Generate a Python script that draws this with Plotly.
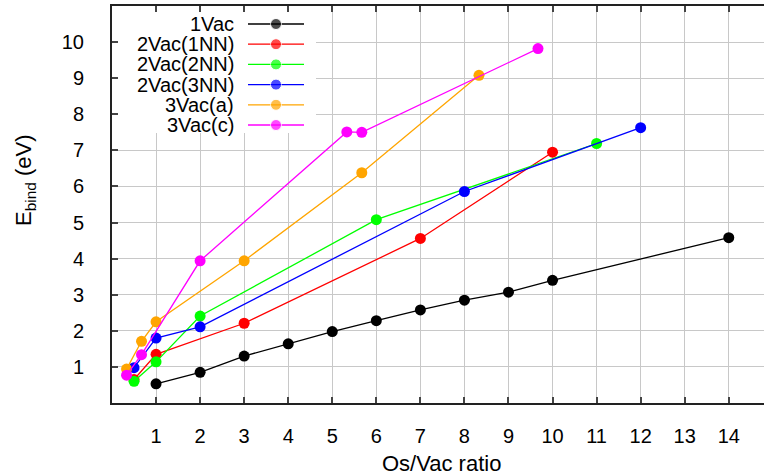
import plotly.graph_objects as go

# ---- data ----
vac1_x = [1, 2, 3, 4, 5, 6, 7, 8, 9, 10, 14]
vac1_y = [0.53, 0.85, 1.30, 1.64, 1.98, 2.28, 2.58, 2.85, 3.07, 3.40, 4.58]
nn1_x = [0.5, 1, 3, 7, 10]
nn1_y = [0.65, 1.35, 2.21, 4.56, 6.95]
nn2_x = [0.5, 1, 2, 6, 11]
nn2_y = [0.60, 1.14, 2.41, 5.08, 7.19]
nn3_x = [0.5, 1, 2, 8, 12]
nn3_y = [0.98, 1.80, 2.11, 5.86, 7.63]
va_x = [0.33, 0.67, 1, 3, 5.67, 8.33]
va_y = [0.94, 1.71, 2.25, 3.94, 6.38, 9.08]
vc_x = [0.33, 0.67, 2, 5.33, 5.67, 9.67]
vc_y = [0.77, 1.34, 3.94, 7.51, 7.50, 9.82]

names = ["1Vac", "2Vac(1NN)", "2Vac(2NN)", "2Vac(3NN)", "3Vac(a)", "3Vac(c)"]
colors = ["#000000", "#ff0000", "#00ff00", "#0000ff", "#ffa500", "#ff00ff"]
xs = [vac1_x, nn1_x, nn2_x, nn3_x, va_x, vc_x]
ys = [vac1_y, nn1_y, nn2_y, nn3_y, va_y, vc_y]

x_ticks = list(range(1, 15))
y_ticks = list(range(1, 11))
x_range = [0, 14.8]
y_range = [0, 11]

FONT = "Liberation Sans, Arial, Helvetica, sans-serif"
W, H = 764, 475
ML, MR, MT, MB = 112, 0, 6, 72
PW, PH = W - ML - MR, H - MT - MB


def px2x(px):
    return x_range[0] + (px - ML) / PW * (x_range[1] - x_range[0])


def py2y(py):
    return y_range[0] + (H - MB - py) / PH * (y_range[1] - y_range[0])


def px2paper(px):
    return (px - ML) / PW


def py2paper(py):
    return (H - MB - py) / PH


fig = go.Figure()
for n, c, x, y in zip(names, colors, xs, ys):
    fig.add_trace(go.Scatter(x=x, y=y, mode="lines+markers", name=n,
                             line=dict(color=c, width=1.3),
                             marker=dict(color=c, size=11),
                             showlegend=False, hoverinfo="skip"))

# ---- gnuplot-style key (text right-aligned, sample to its right) ----
row0, drow = 24, 20.2
text_right, s0, s1 = 236, 248, 304
for i, (n, c) in enumerate(zip(names, colors)):
    yy = row0 + i * drow
    fig.add_trace(go.Scatter(x=[px2x(s0), px2x((s0 + s1) / 2), px2x(s1)],
                             y=[py2y(yy)] * 3, mode="lines+markers",
                             line=dict(color=c, width=1.3),
                             marker=dict(color=c, size=[0, 11, 0]),
                             showlegend=False, hoverinfo="skip"))
    fig.add_annotation(x=px2x(text_right), y=py2y(yy), xref="x", yref="y", text=n,
                       showarrow=False, xanchor="right", yanchor="middle",
                       font=dict(family=FONT, size=20, color="black"))

# white key box covering the grid
fig.add_shape(type="rect", xref="x", yref="y", x0=px2x(113), x1=px2x(316),
              y0=py2y(8), y1=py2y(133),
              fillcolor="white", line=dict(width=0), layer="between")

fig.update_layout(
    width=W, height=H,
    margin=dict(l=ML, r=MR, t=MT, b=MB, autoexpand=False),
    paper_bgcolor="white", plot_bgcolor="white",
    font=dict(family=FONT, size=20, color="black"),
    xaxis=dict(range=x_range, tickvals=x_ticks, ticktext=[str(v) for v in x_ticks],
               showgrid=True, gridcolor="#c8c8c8", gridwidth=1.2,
               zeroline=False, showline=True, linecolor="#222222", linewidth=2,
               mirror="ticks", ticks="inside", ticklen=6, tickcolor="#444444",
               tickwidth=1.5, ticklabelstandoff=14,
               tickfont=dict(family=FONT, size=20, color="black")),
    yaxis=dict(range=y_range, tickvals=y_ticks, ticktext=[str(v) for v in y_ticks],
               showgrid=True, gridcolor="#c8c8c8", gridwidth=1.2,
               zeroline=False, showline=True, linecolor="#222222", linewidth=2,
               mirror=False, ticks="inside", ticklen=6, tickcolor="#444444",
               tickwidth=1.5, ticklabelstandoff=22,
               tickfont=dict(family=FONT, size=20, color="black")),
)

# axis titles
fig.add_annotation(x=px2paper(441), y=py2paper(464), xref="paper", yref="paper",
                   text="Os/Vac ratio", showarrow=False,
                   xanchor="center", yanchor="middle",
                   font=dict(family=FONT, size=22, color="black"))
fig.add_annotation(x=px2paper(25), y=py2paper(181), xref="paper", yref="paper",
                   text="E<sub>bind</sub> (eV)", textangle=-90, showarrow=False,
                   xanchor="center", yanchor="middle",
                   font=dict(family=FONT, size=22, color="black"))

fig.write_html("out.html", config={"displayModeBar": False},
               post_script="document.body.style.margin='0';document.body.style.padding='0';")
